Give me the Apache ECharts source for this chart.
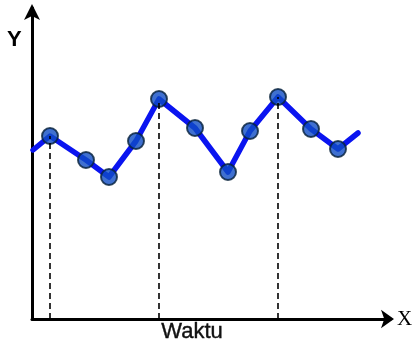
<!DOCTYPE html>
<html><head><meta charset="utf-8">
<script src="https://cdn.jsdelivr.net/npm/echarts@6/dist/echarts.min.js"></script>
<style>html,body{margin:0;padding:0;background:#fff}#c{width:414px;height:345px}</style>
</head><body><div id="c"></div>
<script>
// time (x) and value (y)
const times  = [0.1, 1.8, 5.4, 7.7, 10.4, 12.7, 16.3, 19.6, 21.8, 24.6, 27.9, 30.6, 32.6];
const values = [16.9, 18.3, 15.9, 14.2, 17.8, 22.0, 19.1, 14.7, 18.8, 22.2, 19.0, 17.0, 18.6];
const markerIdx = [1,2,3,4,5,6,7,8,9,10,11]; // points drawn with a dot
const dropIdx = [1,5,9];                      // points with dashed drop lines
const xLabel = 'X', yLabel = 'Y', timeLabel = 'Waktu';

const lineData = times.map((t,i)=>[t, values[i]]);
const markData = markerIdx.map(i=>[times[i], values[i]]);
const dropLines = dropIdx.map(i=>[{coord:[times[i],0]},{coord:[times[i],values[i]]}]);

const chart = echarts.init(document.getElementById('c'));
chart.setOption({
  animation:false,
  grid:{left:32, right:24, top:8, bottom:26, outerBoundsMode:'none', containLabel:false},
  xAxis:{type:'value', min:0, max:35.8,
    axisLine:{show:true, lineStyle:{color:'#000', width:3}, symbol:['none','arrow'], symbolSize:[14,13], symbolOffset:[0,4]},
    axisTick:{show:false}, axisLabel:{show:false}, splitLine:{show:false}},
  yAxis:{type:'value', min:0, max:31.1,
    axisLine:{show:true, lineStyle:{color:'#000', width:3}, symbol:['none','arrow'], symbolSize:[12,16], symbolOffset:[0,4]},
    axisTick:{show:false}, axisLabel:{show:false}, splitLine:{show:false}},
  graphic:[
    {type:'text', left:161, top:321,
     style:{text:timeLabel, font:'22px "Liberation Sans Narrow","Liberation Sans",sans-serif', fill:'#111', stroke:'#111', lineWidth:0.4}},
    {type:'text', left:7, top:29,
     style:{text:yLabel, font:'bold 22px "Liberation Sans",sans-serif', fill:'#000'}},
    {type:'text', left:397, top:309,
     style:{text:xLabel, font:'21px "Liberation Serif",serif', fill:'#000'}}
  ],
  series:[
    {type:'line', data:lineData, showSymbol:false, smooth:false,
     lineStyle:{color:'#0a14f0', width:5.5, join:'round', cap:'round'}, z:3,
     markLine:{silent:true, symbol:['none','none'], label:{show:false},
       lineStyle:{color:'#000', width:1.6, type:[6,4]}, data:dropLines}},
    {type:'scatter', data:markData, symbol:'circle', symbolSize:16,
     itemStyle:{color:'#0f4cc4', borderColor:'#06203a', borderWidth:2}, z:4}
  ]
});
</script></body></html>
